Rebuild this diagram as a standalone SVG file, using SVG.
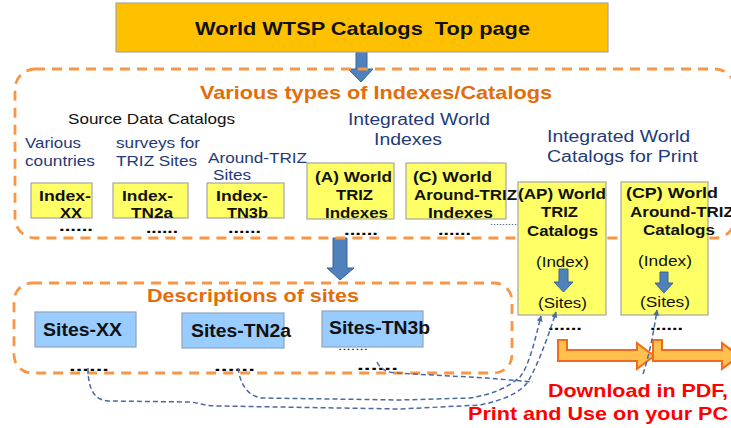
<svg xmlns="http://www.w3.org/2000/svg" width="731" height="428" viewBox="0 0 731 428">
<style>
text{font-family:"Liberation Sans",Arial,sans-serif;}
.b{font-weight:bold}
.navy{fill:#1F3A7A}
.blk{fill:#111}
.org{fill:#E46C0A}
.red{fill:#FF0000}
.ybox{fill:#FFFF66;stroke:#A6A6A6;stroke-width:1.2}
.bbox{fill:#99CCFF;stroke:#8FA3B8;stroke-width:1.2}
.frame{fill:none;stroke:#F79646;stroke-width:2.8;stroke-dasharray:10 7}
.conn{fill:none;stroke:#4A6A9E;stroke-width:1.5;stroke-dasharray:5 3}
.barrow{fill:#4F81BD;stroke:#3B6395;stroke-width:1}
.oarrow{fill:#FFC04D;stroke:#F26B1D;stroke-width:2;stroke-linejoin:miter}
.dots{font-weight:bold;font-size:15px;fill:#000}
</style>
<defs>
<marker id="ah" viewBox="0 0 10 10" refX="9" refY="5" markerWidth="6" markerHeight="6" orient="auto" markerUnits="userSpaceOnUse">
<path d="M0,0 L10,5 L0,10 Z" fill="#4A6A9E"/>
</marker>
</defs>

<!-- big blue arrows -->
<g id="arrow-top">
<path class="barrow" d="M356,51 L367,51 L367,69 L373,69 L361,82 L348,69 L356,69 Z"/>
</g>
<g id="arrow-mid">
<path class="barrow" d="M333,238 L347,238 L347,268 L354,268 L340,280 L327,268 L333,268 Z"/>
</g>

<!-- frames -->
<g id="group-indexes">
<rect class="frame" x="15" y="69" width="720" height="169" rx="20" ry="20"/>
<text class="b org" x="200" y="99" font-size="19" textLength="352" lengthAdjust="spacingAndGlyphs">Various types of Indexes/Catalogs</text>
<text class="blk" x="68" y="124" font-size="14.5" textLength="167" lengthAdjust="spacingAndGlyphs">Source Data Catalogs</text>
<text class="navy" x="25" y="148" font-size="14.5" textLength="56" lengthAdjust="spacingAndGlyphs">Various</text>
<text class="navy" x="25" y="166" font-size="14.5" textLength="70" lengthAdjust="spacingAndGlyphs">countries</text>
<text class="navy" x="116" y="148" font-size="14.5" textLength="84" lengthAdjust="spacingAndGlyphs">surveys for</text>
<text class="navy" x="116" y="166" font-size="14.5" textLength="81" lengthAdjust="spacingAndGlyphs">TRIZ Sites</text>
<text class="navy" x="208" y="163" font-size="14.5" textLength="99" lengthAdjust="spacingAndGlyphs">Around-TRIZ</text>
<text class="navy" x="213" y="180" font-size="14.5" textLength="38" lengthAdjust="spacingAndGlyphs">Sites</text>
<text class="navy" x="348" y="125" font-size="16" textLength="142" lengthAdjust="spacingAndGlyphs">Integrated World</text>
<text class="navy" x="374" y="145" font-size="16" textLength="68" lengthAdjust="spacingAndGlyphs">Indexes</text>
<text class="navy" x="547" y="142" font-size="16" textLength="143" lengthAdjust="spacingAndGlyphs">Integrated World</text>
<text class="navy" x="547" y="162" font-size="16" textLength="151" lengthAdjust="spacingAndGlyphs">Catalogs for Print</text>
</g>

<g id="group-descriptions">
<rect class="frame" x="14" y="283" width="498" height="90" rx="18" ry="18"/>
<text class="b org" x="147" y="302" font-size="18" textLength="212" lengthAdjust="spacingAndGlyphs">Descriptions of sites</text>
</g>

<!-- top node -->
<g id="top-page">
<rect x="116" y="3" width="492" height="49" fill="#FFC000" stroke="#A6A6A6" stroke-width="1.2"/>
<text class="b blk" x="195" y="35" font-size="19" style="white-space:pre" textLength="335" lengthAdjust="spacingAndGlyphs">World WTSP Catalogs  Top page</text>
</g>

<!-- index nodes -->
<g id="index-xx">
<rect class="ybox" x="31" y="183" width="61" height="35"/>
<text class="b blk" x="39" y="201" font-size="15" textLength="52" lengthAdjust="spacingAndGlyphs">Index-</text>
<text class="b blk" x="60" y="218" font-size="15" textLength="22" lengthAdjust="spacingAndGlyphs">XX</text>
<text class="dots" x="59" y="231" textLength="34" lengthAdjust="spacingAndGlyphs">......</text>
</g>
<g id="index-tn2a">
<rect class="ybox" x="113" y="183" width="75" height="35"/>
<text class="b blk" x="122" y="201" font-size="15" textLength="51" lengthAdjust="spacingAndGlyphs">Index-</text>
<text class="b blk" x="131" y="218" font-size="15" textLength="42" lengthAdjust="spacingAndGlyphs">TN2a</text>
<text class="dots" x="146" y="233" textLength="32" lengthAdjust="spacingAndGlyphs">......</text>
</g>
<g id="index-tn3b">
<rect class="ybox" x="207" y="183" width="77" height="35"/>
<text class="b blk" x="216" y="201" font-size="15" textLength="52" lengthAdjust="spacingAndGlyphs">Index-</text>
<text class="b blk" x="227" y="218" font-size="15" textLength="41" lengthAdjust="spacingAndGlyphs">TN3b</text>
<text class="dots" x="228" y="233" textLength="33" lengthAdjust="spacingAndGlyphs">......</text>
</g>
<g id="world-triz-indexes">
<rect class="ybox" x="307" y="163" width="87" height="56"/>
<text class="b blk" x="315" y="182" font-size="15" textLength="77" lengthAdjust="spacingAndGlyphs">(A) World</text>
<text class="b blk" x="336" y="200" font-size="15" textLength="37" lengthAdjust="spacingAndGlyphs">TRIZ</text>
<text class="b blk" x="325" y="218" font-size="15" textLength="63" lengthAdjust="spacingAndGlyphs">Indexes</text>
<text class="dots" x="344" y="235" textLength="34" lengthAdjust="spacingAndGlyphs">......</text>
</g>
<g id="world-around-triz-indexes">
<rect class="ybox" x="406" y="163" width="100" height="56"/>
<text class="b blk" x="413" y="182" font-size="15" textLength="79" lengthAdjust="spacingAndGlyphs">(C) World</text>
<text class="b blk" x="414" y="200" font-size="15" textLength="103" lengthAdjust="spacingAndGlyphs">Around-TRIZ</text>
<text class="b blk" x="428" y="218" font-size="15" textLength="65" lengthAdjust="spacingAndGlyphs">Indexes</text>
<text class="dots" x="438" y="235" textLength="33" lengthAdjust="spacingAndGlyphs">......</text>
<text class="navy" x="490" y="225" font-size="9" textLength="27" lengthAdjust="spacingAndGlyphs">.........</text>
</g>

<!-- print catalog nodes -->
<g id="world-triz-catalogs">
<rect class="ybox" x="518" y="182" width="88" height="133"/>
<text class="b blk" x="518" y="199" font-size="15.5" textLength="88" lengthAdjust="spacingAndGlyphs">(AP) World</text>
<text class="b blk" x="541" y="217" font-size="15.5" textLength="37" lengthAdjust="spacingAndGlyphs">TRIZ</text>
<text class="b blk" x="527" y="236" font-size="15.5" textLength="71" lengthAdjust="spacingAndGlyphs">Catalogs</text>
<text class="blk" x="536" y="267" font-size="14.5" textLength="53" lengthAdjust="spacingAndGlyphs">(Index)</text>
<path class="barrow" d="M559,269 L568,269 L568,282 L573,282 L563.5,292 L554,282 L559,282 Z"/>
<text class="blk" x="538" y="308" font-size="14.5" textLength="49" lengthAdjust="spacingAndGlyphs">(Sites)</text>
<text class="dots" x="548" y="330" textLength="34" lengthAdjust="spacingAndGlyphs">......</text>
</g>
<g id="world-around-triz-catalogs">
<rect class="ybox" x="621" y="182" width="87" height="133"/>
<text class="b blk" x="626" y="198" font-size="15.5" textLength="92" lengthAdjust="spacingAndGlyphs">(CP) World</text>
<text class="b blk" x="630" y="217" font-size="15.5" textLength="104" lengthAdjust="spacingAndGlyphs">Around-TRIZ</text>
<text class="b blk" x="643" y="235" font-size="15.5" textLength="72" lengthAdjust="spacingAndGlyphs">Catalogs</text>
<text class="blk" x="638" y="266" font-size="14.5" textLength="54" lengthAdjust="spacingAndGlyphs">(Index)</text>
<path class="barrow" d="M660,272 L668,272 L668,283 L673,283 L664,293 L655,283 L660,283 Z"/>
<text class="blk" x="640" y="307" font-size="14.5" textLength="50" lengthAdjust="spacingAndGlyphs">(Sites)</text>
<text class="dots" x="650" y="330" textLength="33" lengthAdjust="spacingAndGlyphs">......</text>
</g>

<!-- site description nodes -->
<g id="sites-xx">
<rect class="bbox" x="35" y="312" width="101" height="35"/>
<text class="b blk" x="43" y="336" font-size="18" textLength="79" lengthAdjust="spacingAndGlyphs">Sites-XX</text>
<text class="dots" x="69" y="371" textLength="40" lengthAdjust="spacingAndGlyphs">......</text>
</g>
<g id="sites-tn2a">
<rect class="bbox" x="182" y="313" width="102" height="35"/>
<text class="b blk" x="191" y="337" font-size="18" textLength="100" lengthAdjust="spacingAndGlyphs">Sites-TN2a</text>
<text class="dots" x="214" y="371" textLength="41" lengthAdjust="spacingAndGlyphs">......</text>
</g>
<g id="sites-tn3b">
<rect class="bbox" x="322" y="311" width="101" height="36"/>
<text class="b blk" x="329" y="334" font-size="18" textLength="101" lengthAdjust="spacingAndGlyphs">Sites-TN3b</text>
<text class="blk" x="338" y="350" font-size="10" textLength="30" lengthAdjust="spacingAndGlyphs">.......</text>
<text class="dots" x="357" y="370" textLength="41" lengthAdjust="spacingAndGlyphs">......</text>
</g>

<!-- download -->
<g id="download">
<path class="oarrow" d="M558,340 L567,340 L567,350 L637,350 L637,343 L654,356 L637,369 L637,361 L558,361 Z"/>
<path class="oarrow" d="M653,340 L662,340 L662,350 L722,350 L722,343 L739,356 L722,369 L722,361 L653,361 Z"/>
<text class="b red" x="548" y="397" font-size="18.5" textLength="180" lengthAdjust="spacingAndGlyphs">Download in PDF,</text>
<text class="b red" x="468" y="420" font-size="18.5" textLength="260" lengthAdjust="spacingAndGlyphs">Print and Use on your PC</text>
</g>

<!-- connectors -->
<g id="connectors">
<path class="conn" marker-end="url(#ah)" d="M88,368 C88,385 92,400 108,401 L190,402 C200,403 205,406 218,406 L400,409 L480,405 C505,400 520,392 527,383 C536,369 546,343 556,312"/>
<path class="conn" marker-end="url(#ah)" d="M238,368 C240,382 246,396 262,398 L400,400 L470,398 C495,394 510,386 520,377 C529,366 535,340 541,316"/>
<path class="conn" d="M377,362 C380,368 385,372 395,373 L487,378 L533,382"/>
<path class="conn" marker-end="url(#ah)" d="M643,374 C647,362 652,343 657,310"/>
</g>
</svg>
